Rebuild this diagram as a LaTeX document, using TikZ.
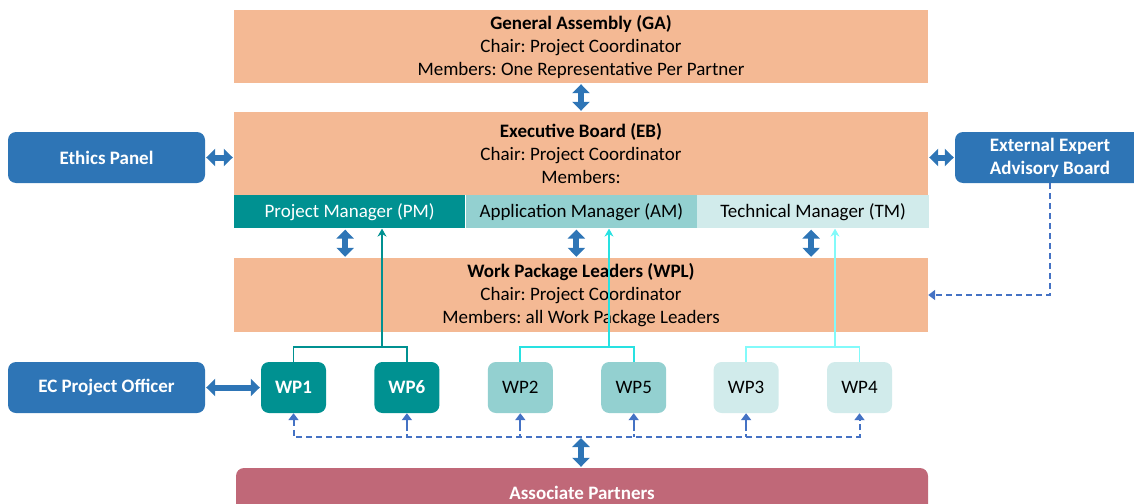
\documentclass[tikz,border=0pt]{standalone}
\usepackage{fontspec}
\setmainfont{Carlito}
\usetikzlibrary{positioning}
\usetikzlibrary{arrows.meta}
\frenchspacing

\definecolor{peach}{RGB}{244,185,148}
\definecolor{pmteal}{RGB}{0,145,145}
\definecolor{amteal}{RGB}{147,208,208}
\definecolor{tmteal}{RGB}{209,235,235}
\definecolor{boxblue}{RGB}{46,117,182}
\definecolor{dashblue}{RGB}{68,114,196}
\definecolor{partnerred}{RGB}{192,104,120}
\definecolor{amline}{RGB}{40,225,225}
\definecolor{tmline}{RGB}{130,250,250}

\begin{document}
\begin{tikzpicture}[x=1pt, y=-1pt, font=\fontsize{19}{23}\selectfont,
		board/.style={fill=peach, minimum width=694pt, align=center, inner sep=0pt},
		side/.style={fill=boxblue, rounded corners=8pt, text=white, font=\fontsize{19}{23}\selectfont\bfseries, align=center, minimum width=197pt, minimum height=51pt},
		manager/.style={minimum width=231.33pt, minimum height=33pt, inner sep=0pt, anchor=north west},
		wp/.style={rounded corners=8pt, minimum width=65pt, minimum height=51pt, inner sep=0pt},
		fat/.style={draw=boxblue, line width=6pt, {Triangle[width=17pt,length=9pt]}-{Triangle[width=17pt,length=9pt]}, shorten >=1pt, shorten <=1pt},
		thin/.style={line width=1.8pt, -{Stealth[width=9pt,length=8pt]}},
		dashline/.style={draw=dashblue, line width=2pt, dash pattern=on 6pt off 4pt},
		tip/.style={-{Triangle[width=10pt,length=7pt]}}]
			\useasboundingbox (0,0) rectangle (1134,503);
			\clip (0,0) rectangle (1134,503);
			% boards
			\node[board, minimum height=73pt] (ga) at (581,46.5) {\textbf{General Assembly (GA)}\\Chair: Project Coordinator\\Members: One Representative Per Partner};
			\node[board, minimum height=83pt] (eb) at (581,153.5) {\textbf{Executive Board (EB)}\\Chair: Project Coordinator\\Members:};
			\node[manager, fill=pmteal, text=white] (pm) at (eb.south west) {Project Manager (PM)};
			\node[manager, fill=amteal, right=0pt of pm] (am) {Application Manager (AM)};
			\node[manager, fill=tmteal, right=0pt of am] (tm) {Technical Manager (TM)};
			\node[board, minimum height=74pt] (wpl) at (581,295) {\textbf{Work Package Leaders (WPL)}\\Chair: Project Coordinator\\Members: all Work Package Leaders};
			% side boxes
			\node[side] (ethics) at (106.5,157.5) {Ethics Panel};
			\node[side, minimum width=190pt] (eeab) at (1050,157.5) {External Expert\\Advisory Board};
			\node[side] (ecpo) at (106.5,387.5) {EC Project Officer};
			% work packages
			\node[wp, fill=pmteal, text=white, font=\fontsize{19}{23}\selectfont\bfseries] (wp1) at (293.5,387.5) {WP1};
			\node[wp, fill=pmteal, text=white, font=\fontsize{19}{23}\selectfont\bfseries, right=48pt of wp1] (wp6) {WP6};
			\node[wp, fill=amteal, right=48pt of wp6] (wp2) {WP2};
			\node[wp, fill=amteal, right=48pt of wp2] (wp5) {WP5};
			\node[wp, fill=tmteal, right=47pt of wp5] (wp3) {WP3};
			\node[wp, fill=tmteal, right=48pt of wp3] (wp4) {WP4};
			\node[fill=partnerred, rounded corners=8pt, minimum width=692pt, minimum height=52pt, text=white, font=\fontsize{19}{23}\selectfont\bfseries] (ap) at (582,494) {\raisebox{2pt}{Associate Partners}};
			% thick links
			\draw[fat] (ga) -- (eb);
			\draw[fat] (ethics.east) -- (ethics.east -| eb.west);
			\draw[fat] (eeab.west) -- (eeab.west -| eb.east);
			\draw[fat] (ecpo.east) -- (wp1.west);
			\draw[fat] ([xshift=-4.5pt]pm.south) -- ([xshift=-4.5pt]pm.south |- wpl.north);
			\draw[fat] ([xshift=-5pt]am.south) -- ([xshift=-5pt]am.south |- wpl.north);
			\draw[fat] ([xshift=-2pt]tm.south) -- ([xshift=-2pt]tm.south |- wpl.north);
			% work package reporting lines
			\coordinate (pmjoin) at (382,347);
			\coordinate (amjoin) at (609,347);
			\coordinate (tmjoin) at (835,347);
			\draw[pmteal, line width=1.8pt] (wp1.north) |- (pmjoin) -| (wp6.north);
			\draw[pmteal, thin] (pmjoin) -- (pmjoin |- pm.south);
			\draw[amline, line width=1.8pt] (wp2.north) |- (amjoin) -| (wp5.north);
			\draw[amline, thin] (amjoin) -- (amjoin |- am.south);
			\draw[tmline, line width=1.8pt] (wp3.north) |- (tmjoin) -| (wp4.north);
			\draw[tmline, thin] (tmjoin) -- (tmjoin |- tm.south);
			% partner bus
			\coordinate (bus) at (581,437);
			\draw[dashline, {Triangle[width=10pt,length=7pt]}-{Triangle[width=10pt,length=7pt]}] (wp1.south) -- (wp1.south |- bus) -- (wp4.south |- bus) -- (wp4.south);
			\foreach \w in {wp6,wp2,wp5,wp3}
				\draw[dashline, dash pattern=on 3pt off 3pt on 8pt off 0pt, tip] (\w.south |- bus) -- (\w.south);
			\draw[fat] (bus) -- (bus |- ap.north);
			\draw[dashline, tip] (eeab.south) |- (wpl.east);
		\end{tikzpicture}
\end{document}
